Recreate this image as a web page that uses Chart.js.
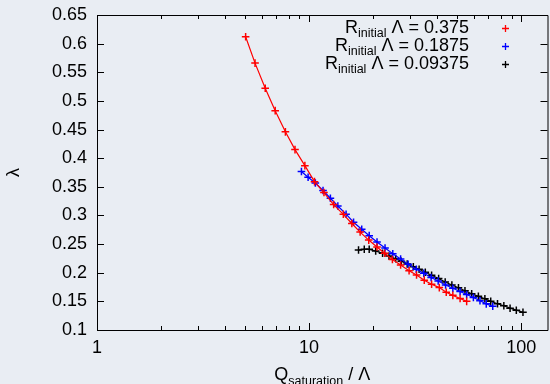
<!DOCTYPE html>
<html>
<head>
<meta charset="utf-8">
<script src="https://cdn.jsdelivr.net/npm/chart.js@4/dist/chart.umd.min.js"></script>
<style>
  html, body { margin: 0; padding: 0; background: #e9edf3; overflow: hidden; width: 550px; height: 384px; }
  #wrap { width: 553px; height: 384px; }
</style>
</head>
<body>
<div id="wrap"><canvas id="myChart" width="553" height="384"></canvas></div>
<script>
// R_initial Λ = 0.375
const redX = [5.02, 5.56, 6.21, 6.92, 7.73, 8.58, 9.55, 10.6, 11.75, 13.05, 14.5, 15.9, 17.4, 19.1,
  20.9, 22.7, 24.7, 27.0, 29.6, 32.1, 34.9, 37.8, 41.1, 44.3, 47.6, 51.5, 55.3];
const redY = [0.612, 0.566, 0.522, 0.483, 0.446, 0.415, 0.387, 0.359, 0.340, 0.319, 0.302, 0.286, 0.271, 0.257,
  0.245, 0.234, 0.223, 0.2135, 0.2035, 0.196, 0.187, 0.180, 0.174, 0.166, 0.1605, 0.155, 0.150];
// R_initial Λ = 0.1875
const blueX = [9.20, 9.89, 10.7, 11.63, 12.6, 13.66, 14.94, 16.2, 17.7, 19.2, 20.9, 22.8, 24.8, 27.0,
  29.3, 32.0, 34.7, 37.6, 40.6, 44.0, 47.6, 51.5, 55.3, 59.5, 63.9, 68.4, 73.4];
const blueY = [0.3768, 0.3666, 0.3567, 0.3436, 0.330, 0.3165, 0.3022, 0.2882, 0.2758, 0.2647, 0.2537, 0.2432, 0.2332, 0.224,
  0.2147, 0.206, 0.199, 0.1917, 0.1856, 0.1786, 0.1728, 0.1672, 0.162, 0.1567, 0.1512, 0.1457, 0.1414];
// R_initial Λ = 0.09375
const blackX = [17.1, 18.2, 19.2, 20.6, 22.2, 23.8, 25.6, 27.2, 29.0, 31.0, 33.0, 35.3, 37.8, 40.8,
  43.8, 47.1, 50.6, 54.3, 58.4, 62.8, 67.4, 71.8, 77.3, 82.8, 88.6, 94.8, 101.9];
const blackY = [0.2397, 0.2409, 0.2409, 0.238, 0.2339, 0.2292, 0.2245, 0.220, 0.2152, 0.2105, 0.206, 0.2008, 0.1955, 0.1899,
  0.1838, 0.1786, 0.1739, 0.1686, 0.1634, 0.1588, 0.1545, 0.150, 0.1459, 0.1423, 0.1381, 0.1346, 0.1309];

const legendValues = ['0.375', '0.1875', '0.09375'];
const seriesColors = ['#ff0000', '#0000ff', '#000000'];
const xTicks = [1, 2, 3, 4, 5, 6, 7, 8, 9, 10, 20, 30, 40, 50, 60, 70, 80, 90, 100];
const xLabels = [1, 10, 100];

const FONT = '"Liberation Sans", Arial, sans-serif';
const BIG = '18px ' + FONT;
const SUB = '12.5px ' + FONT;

function pts(xs, ys) {
    return xs.map((x, i) => ({ x: x, y: ys[i] }));
}

// ticks pointing inward + frame, gnuplot style
const framePlugin = {
    id: 'frame',
    afterDraw(chart) {
        const ctx = chart.ctx;
        const a = chart.chartArea;
        const xs = chart.scales.x;
        const ys = chart.scales.y;
        ctx.save();
        ctx.strokeStyle = '#000';
        ctx.lineWidth = 1;
        ctx.beginPath();
        ctx.moveTo(a.left + 0.5, a.top + 0.5);
        ctx.lineTo(a.right + 0.5, a.top + 0.5);
        ctx.lineTo(a.right + 0.5, a.bottom + 0.5);
        ctx.lineTo(a.left + 0.5, a.bottom + 0.5);
        ctx.closePath();
        ctx.stroke();
        ctx.beginPath();
        xTicks.forEach(v => {
            const px = Math.round(xs.getPixelForValue(v)) + 0.5;
            const len = xLabels.includes(v) ? 7 : 4;
            ctx.moveTo(px, a.bottom);
            ctx.lineTo(px, a.bottom - len);
            ctx.moveTo(px, a.top);
            ctx.lineTo(px, a.top + len);
        });
        ys.ticks.forEach(t => {
            const py = Math.round(ys.getPixelForValue(t.value)) + 0.5;
            ctx.moveTo(a.left, py);
            ctx.lineTo(a.left + 7, py);
            ctx.moveTo(a.right, py);
            ctx.lineTo(a.right - 7, py);
        });
        ctx.stroke();

        // legend with subscripts
        const right = 469;
        legendValues.forEach((val, i) => {
            const base = 33 + i * 18;
            const rest = ' \u039B = ' + val;
            ctx.font = BIG;
            const wR = ctx.measureText('R').width;
            const wRest = ctx.measureText(rest).width;
            ctx.font = SUB;
            const wSub = ctx.measureText('initial').width;
            let x = right - wR - wSub - wRest;
            ctx.fillStyle = '#000';
            ctx.textBaseline = 'alphabetic';
            ctx.textAlign = 'left';
            ctx.font = BIG;
            ctx.fillText('R', x, base);
            x += wR;
            ctx.font = SUB;
            ctx.fillText('initial', x, base + 4);
            x += wSub;
            ctx.font = BIG;
            ctx.fillText(rest, x, base);
            // marker
            const mx = 505.5, my = Math.round(base - 5) + 0.5;
            ctx.strokeStyle = seriesColors[i];
            ctx.lineWidth = 1.3;
            ctx.beginPath();
            ctx.moveTo(mx - 3.5, my);
            ctx.lineTo(mx + 3.5, my);
            ctx.moveTo(mx, my - 3.5);
            ctx.lineTo(mx, my + 3.5);
            ctx.stroke();
        });

        // x axis title with subscript
        const cx = (a.left + a.right) / 2;
        const tb = 380;
        ctx.font = BIG;
        const wQ = ctx.measureText('Q').width;
        const wT = ctx.measureText(' / \u039B').width;
        ctx.font = SUB;
        const wS = ctx.measureText('saturation').width;
        let tx = cx - (wQ + wS + wT) / 2;
        ctx.fillStyle = '#000';
        ctx.font = BIG;
        ctx.fillText('Q', tx, tb);
        tx += wQ;
        ctx.font = SUB;
        ctx.fillText('saturation', tx, tb + 5);
        tx += wS;
        ctx.font = BIG;
        ctx.fillText(' / \u039B', tx, tb);
        ctx.restore();
    }
};

const ctx = document.getElementById('myChart');
const common = { fill: false, borderWidth: 1.2, pointStyle: 'cross', pointRadius: 3.8, pointBorderWidth: 1.5, tension: 0 };

new Chart(ctx, {
    type: 'line',
    data: {
        datasets: [
            { ...common, label: 'R_initial Λ = 0.375', data: pts(redX, redY), borderColor: seriesColors[0], pointBorderColor: seriesColors[0] },
            { ...common, label: 'R_initial Λ = 0.1875', data: pts(blueX, blueY), borderColor: seriesColors[1], pointBorderColor: seriesColors[1] },
            { ...common, label: 'R_initial Λ = 0.09375', data: pts(blackX, blackY), borderColor: seriesColors[2], pointBorderColor: seriesColors[2] }
        ]
    },
    options: {
        responsive: false,
        animation: false,
        layout: { padding: { top: 15, right: 1, left: 0, bottom: 0 } },
        plugins: { legend: { display: false }, tooltip: { enabled: false } },
        scales: {
            x: {
                type: 'logarithmic',
                min: 1,
                max: 133,
                grid: { display: false, drawTicks: false },
                border: { display: false },
                afterBuildTicks: s => { s.ticks = xTicks.map(v => ({ value: v })); },
                afterFit: s => { s.height = 54; s.paddingLeft = 0; s.paddingRight = 0; },
                ticks: {
                    autoSkip: false,
                    maxRotation: 0,
                    padding: 7,
                    color: '#000',
                    font: { family: FONT, size: 18 },
                    callback: v => xLabels.includes(v) ? String(v) : ''
                }
            },
            y: {
                min: 0.1,
                max: 0.65,
                grid: { display: false, drawTicks: false },
                border: { display: false },
                afterFit: s => { s.width = 97; s.paddingTop = 0; s.paddingBottom = 0; },
                title: { display: true, text: 'λ', color: '#000', font: { family: FONT, size: 18 }, padding: 3 },
                ticks: {
                    stepSize: 0.05,
                    padding: 10,
                    color: '#000',
                    font: { family: FONT, size: 18 },
                    callback: v => String(parseFloat(v.toFixed(2)))
                }
            }
        }
    },
    plugins: [framePlugin]
});
</script>
</body>
</html>
